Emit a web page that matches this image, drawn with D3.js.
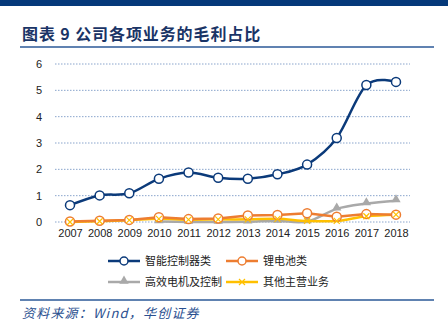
<!DOCTYPE html>
<html><head><meta charset="utf-8">
<script src="https://cdn.jsdelivr.net/npm/d3@7/dist/d3.min.js"></script>
<style>body{margin:0;background:#fff;}svg{display:block;}</style>
</head><body><svg id="c" width="448" height="333"></svg>
<script>
const years = [2007,2008,2009,2010,2011,2012,2013,2014,2015,2016,2017,2018];
const smartCtrl = [0.64,1.01,1.09,1.64,1.88,1.68,1.64,1.81,2.18,3.19,5.20,5.32];
const lithium  = [0.02,0.05,0.08,0.18,0.11,0.13,0.25,0.27,0.33,0.20,0.30,0.28];
const motor    = [null,null,null,0.02,0.00,0.00,0.01,0.04,0.02,0.50,0.70,0.81];
const other    = [0.00,0.03,0.07,0.12,0.09,0.10,0.10,0.12,0.04,0.04,0.22,0.28];
const yTicks = [0,1,2,3,4,5,6];
const seriesNames = ["智能控制器类","锂电池类","高效电机及控制","其他主营业务"];

const svg = d3.select("#c");
const navy = "#0b3a7a";
svg.append("rect").attr("x",0).attr("y",0).attr("width",448).attr("height",6).attr("fill","#05397a");
svg.append("text").attr("x",22).attr("y",40).attr("fill","#1a3466")
  .attr("font-family","Noto Sans CJK SC").attr("font-weight","bold").attr("font-size",16)
  .attr("letter-spacing",0.9)
  .text("图表 9 公司各项业务的毛利占比");
svg.append("line").attr("x1",20).attr("x2",434).attr("y1",47).attr("y2",47).attr("stroke","#2b5897").attr("stroke-width",1.5);

const x = d3.scalePoint().domain(years).range([70,396]);
const y = d3.scaleLinear().domain([0,6]).range([222,64]);

const g = svg.append("g");
g.selectAll("line.grid").data(yTicks).enter().append("line")
  .attr("x1",55).attr("x2",410).attr("y1",d=>y(d)).attr("y2",d=>y(d))
  .attr("stroke","#8aa5cc").attr("stroke-width",1).attr("stroke-dasharray","1.5,1.5");

const yAxis = d3.axisLeft(y).tickValues(yTicks).tickFormat(d3.format("d")).tickSize(0).tickPadding(0);
const ya = svg.append("g").attr("transform","translate(42,0)").call(yAxis);
ya.select(".domain").remove();
ya.selectAll("text").attr("font-family","Liberation Sans, Arial").attr("font-size",11).attr("fill","#222");

const xAxis = d3.axisBottom(x).tickSize(0).tickPadding(0);
const xa = svg.append("g").attr("transform","translate(0,229)").call(xAxis);
xa.select(".domain").remove();
xa.selectAll("text").attr("font-family","Liberation Sans, Arial").attr("font-size",11).attr("fill","#222");

const curve = d3.curveCatmullRom.alpha(0);
function drawLine(data, color, width, smooth){
  const pts = years.map((yr,i)=>({yr, v:data[i]}));
  const line = d3.line().defined(d=>d.v!==null).x(d=>x(d.yr)).y(d=>y(d.v)).curve(smooth?curve:d3.curveLinear);
  g.append("path").datum(pts).attr("d",line).attr("fill","none").attr("stroke",color).attr("stroke-width",width).attr("stroke-linejoin","round");
  return pts.filter(d=>d.v!==null);
}
const triPath = d3.symbol().type(d3.symbolTriangle).size(38)();
function triangles(pts,color){
  g.selectAll(null).data(pts).enter().append("path").attr("d",triPath)
    .attr("transform",d=>`translate(${x(d.yr)},${y(d.v)-1})`).attr("fill",color);
}
function circles(pts,color){
  g.selectAll(null).data(pts).enter().append("circle").attr("cx",d=>x(d.yr)).attr("cy",d=>y(d.v)).attr("r",4.5)
    .attr("fill","#fff").attr("stroke",color).attr("stroke-width",1.5);
}
function crosses(pts,color){
  g.selectAll(null).data(pts).enter().append("path")
    .attr("d","M-3,-3L3,3M-3,3L3,-3").attr("transform",d=>`translate(${x(d.yr)},${y(d.v)})`)
    .attr("stroke",color).attr("stroke-width",1.2).attr("fill","none");
}
const colors = [navy,"#ed7d31","#a9a9a9","#ffc000"];
const pMotor = drawLine(motor,colors[2],2.5,true);
triangles(pMotor,colors[2]);
const pOther = drawLine(other,colors[3],2.5,true);
const pLith = drawLine(lithium,colors[1],2.5,false);
circles(pLith,colors[1]);
crosses(pOther,colors[3]);
const pSmart = drawLine(smartCtrl,colors[0],2.5,true);
circles(pSmart,colors[0]);

// legend
const leg = [{x:108,y:261},{x:226,y:261},{x:108,y:282},{x:226,y:282}];
seriesNames.forEach((n,i)=>{
  const L = svg.append("g").attr("transform",`translate(${leg[i].x},${leg[i].y})`);
  L.append("line").attr("x1",0).attr("x2",32).attr("y1",0).attr("y2",0).attr("stroke",colors[i]).attr("stroke-width",2.5);
  if(i<2) L.append("circle").attr("cx",16).attr("cy",0).attr("r",4).attr("fill","#fff").attr("stroke",colors[i]).attr("stroke-width",1.5);
  if(i===2) L.append("path").attr("d",triPath).attr("transform","translate(16,-1)").attr("fill",colors[i]);
  if(i===3) L.append("path").attr("d","M-3,-3L3,3M-3,3L3,-3").attr("transform","translate(16,0)").attr("stroke",colors[i]).attr("stroke-width",1.2);
  L.append("text").attr("x",37).attr("y",4).attr("font-family","Noto Sans CJK SC").attr("font-size",11).attr("fill","#222").text(n);
});

svg.append("line").attr("x1",20).attr("x2",434).attr("y1",300).attr("y2",300).attr("stroke","#2b5897").attr("stroke-width",1.5);
svg.append("text").attr("x",22).attr("y",318).attr("fill","#2a4f8f").attr("font-style","italic")
  .attr("font-family","Noto Sans CJK SC").attr("font-size",13).attr("letter-spacing",1.2).text("资料来源：Wind，华创证券");
</script></body></html>
